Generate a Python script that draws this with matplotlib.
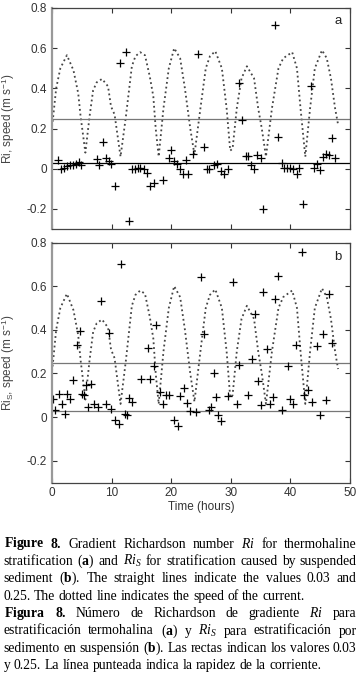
import numpy as np
import matplotlib
matplotlib.use('Agg')
import matplotlib.pyplot as plt

plt.rcParams['font.family'] = ['Liberation Sans Narrow', 'Liberation Sans', 'DejaVu Sans']
plt.rcParams['mathtext.fontset'] = 'custom'
plt.rcParams['mathtext.rm'] = 'Liberation Serif'
plt.rcParams['mathtext.it'] = 'Liberation Serif:italic'
plt.rcParams['mathtext.bf'] = 'Liberation Serif:bold'
plt.rcParams['mathtext.sf'] = 'Liberation Sans'

# current speed (dotted line), same in both panels
speed_t = [0.0, 0.2, 0.7, 1.4, 2.5, 3.6, 4.4, 4.8, 5.6, 6.3, 6.9, 7.5, 8.4, 9.4, 9.9,
           10.5, 11.5, 12.4, 13.4, 14.0, 14.8, 15.6, 16.4, 17.0, 17.4, 17.9, 18.7, 19.6,
           20.5, 21.5, 22.3, 23.2, 23.9, 24.9, 25.8, 26.5, 27.4, 28.5, 29.3, 29.9, 30.3,
           31.0, 31.8, 32.7, 33.9, 34.6, 35.2, 35.9, 36.9, 38.0, 38.8, 40.3, 41.1, 41.7,
           42.5, 43.3, 44.1, 45.3, 46.1, 46.8, 47.5, 48.0]
speed_v = [0.21, 0.26, 0.40, 0.50, 0.565, 0.49, 0.375, 0.26, 0.08, 0.26, 0.39, 0.43, 0.447,
           0.41, 0.31, 0.27, 0.06, 0.26, 0.51, 0.56, 0.58, 0.565, 0.46, 0.36, 0.2, 0.06,
           0.3, 0.5, 0.60, 0.55, 0.40, 0.2, 0.07, 0.3, 0.5, 0.56, 0.585, 0.5, 0.3, 0.09,
           0.10, 0.3, 0.45, 0.51, 0.45, 0.3, 0.2, 0.06, 0.3, 0.5, 0.55, 0.58, 0.5, 0.3,
           0.06, 0.3, 0.5, 0.59, 0.55, 0.45, 0.3, 0.22]

# panel a: Ri (thermohaline)
ri_t = [0.95, 1.56, 2.07, 2.5, 2.96, 3.5, 4.08, 4.47, 4.9, 7.54, 7.93, 8.49, 9.05, 9.5,
        9.94, 10.5, 11.45, 12.46, 13.0, 13.4, 13.85, 14.36, 14.8, 15.36, 15.9, 16.48,
        17.04, 18.6, 19.55, 20.0, 20.5, 20.95, 21.4, 21.9, 22.46, 22.9, 23.63, 24.47,
        25.42, 25.98, 26.42, 27.1, 27.65, 28.38, 28.94, 29.5, 31.4, 31.96, 32.57, 32.96,
        33.4, 33.9, 34.47, 35.03, 35.47, 37.43, 37.99, 38.55, 38.94, 39.39, 39.94, 40.5,
        41.06, 41.5, 42.07, 43.46, 43.97, 44.41, 44.97, 45.42, 45.98, 46.5, 46.93, 47.49]
ri_v = [0.045, 0.0, 0.003, 0.012, 0.018, 0.018, 0.025, 0.033, 0.02, 0.047, 0.018, 0.133,
        0.055, 0.04, 0.025, -0.085, 0.528, 0.58, -0.262, -0.003, 0.0, 0.003, 0.003, -0.003,
        -0.022, -0.085, -0.071, -0.058, 0.053, 0.091, 0.038, 0.022, 0.0, -0.025, 0.042,
        -0.025, 0.075, 0.573, 0.108, 0.0, 0.0, 0.017, 0.022, -0.013, -0.028, -0.003, 0.429,
        0.244, 0.065, 0.061, 0.02, 0.0, 0.066, 0.055, -0.2, 0.714, 0.158, 0.028, 0.005,
        0.005, 0.005, 0.0, -0.025, 0.005, -0.174, 0.41, 0.005, 0.025, -0.005, 0.058, 0.075,
        0.066, 0.154, 0.055]

# panel b: Ri_S (suspended sediment)
ris_t = [0.1, 0.56, 1.1, 1.68, 2.12, 2.5, 2.96, 3.46, 4.19, 4.64, 5.03, 5.3, 5.7, 5.98,
         6.54, 7.1, 7.7, 8.2, 9.1, 9.5, 9.94, 10.5, 11.17, 11.6, 12.18, 12.57, 13.0, 13.5,
         14.97, 16.37, 16.03, 17.04, 17.49, 18.16, 18.6, 19.1, 19.66, 20.5, 21.06, 21.5,
         22.07, 22.63, 23.18, 24.19, 25.0, 25.53, 26.26, 26.65, 27.1, 27.54, 27.93, 28.38,
         29.6, 30.45, 31.0, 31.45, 32.96, 33.5, 34.08, 34.5, 35.03, 35.47, 36.03, 36.5,
         37.04, 37.43, 37.99, 38.55, 39.55, 39.94, 40.5, 40.95, 42.0, 42.35, 43.0, 43.58,
         44.53, 44.97, 45.42, 45.92, 46.54, 47.04]
ris_v = [0.081, 0.034, 0.104, 0.058, 0.015, 0.107, 0.081, 0.168, 0.331, 0.394, 0.104,
         0.099, 0.145, 0.046, 0.153, 0.061, 0.046, 0.534, 0.061, 0.385, 0.038, -0.012,
         -0.034, 0.702, 0.015, 0.011, 0.087, 0.069, 0.173, 0.176, 0.318, 0.232, 0.424,
         0.115, 0.058, 0.102, 0.102, -0.015, -0.043, 0.095, 0.133, 0.066, 0.026, 0.021,
         0.644, 0.382, 0.034, 0.046, 0.202, 0.092, 0.008, -0.02, 0.095, 0.621, 0.058, 0.237,
         0.099, 0.264, 0.473, 0.163, 0.056, 0.573, 0.313, 0.061, 0.092, 0.542, 0.646, 0.034,
         0.232, 0.084, 0.061, 0.331, 0.756, 0.102, 0.125, 0.069, 0.324, 0.011, 0.382, 0.079,
         0.565, 0.34]

ref_lines = [0.03, 0.25]
yticks = [-0.2, 0, 0.2, 0.4, 0.6, 0.8]
ytick_labels = ['-0.2', '0', '0.2', '0.4', '0.6', '0.8']
xticks = [0, 10, 20, 30, 40, 50]

W, H = 359, 678
fig = plt.figure(figsize=(W / 100, H / 100), dpi=100)

def px_box(x0, y0, x1, y1):
    return [x0 / W, 1 - y1 / H, (x1 - x0) / W, (y1 - y0) / H]

ax_a = fig.add_axes(px_box(52, 8, 350, 229))
ax_b = fig.add_axes(px_box(52, 242.5, 350, 482.5))

panels = [
    (ax_a, ri_t, ri_v, 'a', r'Ri, speed (m s$^{\mathsf{-1}}$)', ['black', '#777777']),
    (ax_b, ris_t, ris_v, 'b', r'Ri$_{\mathsf{S}}$, speed (m s$^{\mathsf{-1}}$)', ['#777777', '#777777']),
]

for ax, t, v, letter, ylab, line_cols in panels:
    ax.plot(speed_t, speed_v, linestyle=':', color='#444444', lw=1.3)
    for val, c in zip(ref_lines, line_cols):
        ax.axhline(val, color=c, lw=0.9)
    ax.plot(t, v, linestyle='none', marker='+', ms=6, mew=0.9, color='black')
    ax.set_xlim(0, 50)
    ax.set_ylim(-0.3, 0.8)
    ax.set_yticks(yticks)
    ax.set_yticklabels(ytick_labels)
    ax.set_xticks(xticks)
    ax.tick_params(direction='in', top=True, right=True, length=3.5, width=0.8,
                   labelsize=8.5, colors='#333333', pad=3.5)
    for s in ['top', 'right', 'bottom']:
        ax.spines[s].set_color('#444444')
        ax.spines[s].set_linewidth(0.9)
    ax.spines['left'].set_color('#999999')
    ax.spines['left'].set_linewidth(1.6)
    ax.text(48, 0.735, letter, fontsize=9.5, color='#222222', ha='center', va='center')
    ax.set_ylabel(ylab, fontsize=8.5, color='#444444')
    ax.yaxis.set_label_coords(-0.118, 0.5)

ax_a.tick_params(labelbottom=False)
fig.text(201 / W, 1 - 507 / H, 'Time (hours)', fontsize=8.5, color='#333333',
         ha='center', va='center')

# caption, justified line by line
caption = [
    ([r'$\mathbf{Figure}$', r'$\mathbf{8.}$', 'Gradient', 'Richardson', 'number', r'$\mathit{Ri}$',
      'for', 'thermohaline'], True),
    (['stratification', r'($\mathbf{a}$)', 'and', r'$\mathit{Ri}_{\mathit{S}}$', 'for',
      'stratification', 'caused', 'by', 'suspended'], True),
    (['sediment', r'($\mathbf{b}$).', 'The', 'straight', 'lines', 'indicate', 'the', 'values',
      '0.03', 'and'], True),
    (['0.25.', 'The', 'dotted', 'line', 'indicates', 'the', 'speed', 'of', 'the', 'current.'], False),
    ([r'$\mathbf{Figura}$', r'$\mathbf{8.}$', 'Número', 'de', 'Richardson', 'de', 'gradiente',
      r'$\mathit{Ri}$', 'para'], True),
    (['estratificación', 'termohalina', r'($\mathbf{a}$)', 'y', r'$\mathit{Ri}_{\mathit{S}}$', 'para',
      'estratificación', 'por'], True),
    (['sedimento', 'en', 'suspensión', r'($\mathbf{b}$).', 'Las', 'rectas', 'indican', 'los',
      'valores', '0.03'], True),
    (['y', '0.25.', 'La', 'línea', 'punteada', 'indica', 'la', 'rapidez', 'de', 'la',
      'corriente.'], False),
]

cap_size = 9.8
cap_left, cap_right = 3.5, 356.5
base0, step = 547.5, 17.4
renderer = fig.canvas.get_renderer()
for i, (words, justify) in enumerate(caption):
    y = 1 - (base0 + i * step) / H
    texts = [fig.text(0, y, w, fontsize=cap_size, family='Liberation Serif', color='black',
                      va='baseline', ha='left') for w in words]
    widths = [tx.get_window_extent(renderer).width for tx in texts]
    space = 0.25 * cap_size * 100 / 72
    if justify:
        gap = max((cap_right - cap_left - sum(widths)) / (len(words) - 1), 1.5)
    else:
        gap = space
    x = cap_left
    for tx, wd in zip(texts, widths):
        tx.set_x(x / W)
        x += wd + gap

fig.savefig('out.png', dpi=100)
